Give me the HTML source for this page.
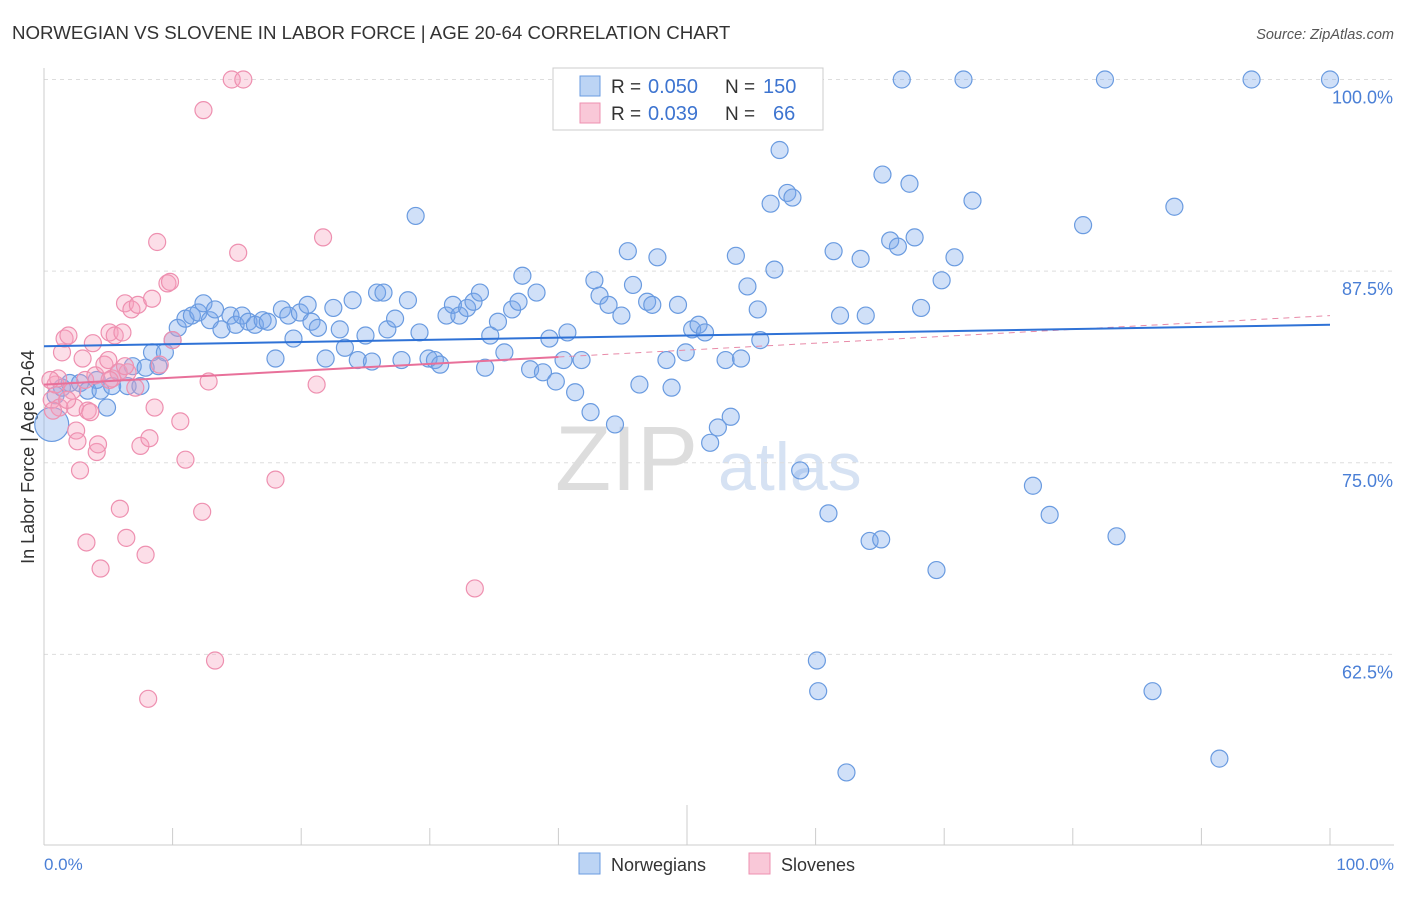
<!DOCTYPE html>
<html><head><meta charset="utf-8"><style>
body{margin:0;background:#fff;font-family:"Liberation Sans",sans-serif;}
svg text{font-family:"Liberation Sans",sans-serif;}
</style></head><body>
<svg id="chart" width="1406" height="892">
<text x="12" y="39" font-size="18.7" fill="#333">NORWEGIAN VS SLOVENE IN LABOR FORCE | AGE 20-64 CORRELATION CHART</text>
<text x="1394" y="39" font-size="14.5" fill="#555" font-style="italic" text-anchor="end">Source: ZipAtlas.com</text>
<text x="555" y="490" font-size="92" fill="#ddd" font-family="Liberation Serif">ZIP</text>
<text x="718" y="490" font-size="68" fill="#d6e2f3">atlas</text>
<g id="grid"></g>
<line x1="44" y1="68" x2="44" y2="845" stroke="#ccc"/>
<line x1="44" y1="845" x2="1394" y2="845" stroke="#ccc"/>
<g id="ticks"></g>
<text x="34" y="457" font-size="18" fill="#333" text-anchor="middle" transform="rotate(-90 34 457)">In Labor Force | Age 20-64</text>
<text x="44" y="870" font-size="17" fill="#4a7fd6">0.0%</text>
<text x="1394" y="870" font-size="17" fill="#4a7fd6" text-anchor="end">100.0%</text>
<g id="pts"></g>
<g id="trends"></g>
<g>
<rect x="553" y="68" width="270" height="62" fill="#fff" stroke="#ccc"/>
<rect x="580" y="76" width="20" height="20" fill="#bcd4f4" stroke="#6a9be0"/>
<rect x="580" y="103" width="20" height="20" fill="#f9c8d8" stroke="#ee90b0"/>
<text x="611" y="93" font-size="19" fill="#333">R =</text>
<text x="648" y="93" font-size="20" fill="#3d74d0">0.050</text>
<text x="725" y="93" font-size="19" fill="#333">N =</text>
<text x="763" y="93" font-size="20" fill="#3d74d0">150</text>
<text x="611" y="120" font-size="19" fill="#333">R =</text>
<text x="648" y="120" font-size="20" fill="#3d74d0">0.039</text>
<text x="725" y="120" font-size="19" fill="#333">N =</text>
<text x="773" y="120" font-size="20" fill="#3d74d0">66</text>
</g>
<g><rect x="579" y="853" width="21" height="21" fill="#bcd4f4" stroke="#6a9be0"/><text x="611" y="871" font-size="18" fill="#333">Norwegians</text></g>
<g><rect x="749" y="853" width="21" height="21" fill="#f9c8d8" stroke="#ee90b0"/><text x="781" y="871" font-size="18" fill="#333">Slovenes</text></g>
</svg>
<script>
const yTicks=[100,87.5,75,62.5];
const yTickLabels=["100.0%","87.5%","75.0%","62.5%"];
const blueX=[0.6,0.9,1.4,2.0,2.8,3.4,4.1,4.9,4.4,5.3,5.8,6.5,6.9,7.5,7.9,8.4,8.9,9.4,10.0,10.4,11.0,11.5,12.0,12.4,12.9,13.3,13.8,14.5,14.9,15.4,15.9,16.4,17.0,17.4,18.0,18.5,19.0,19.4,19.9,20.5,20.8,21.3,21.9,22.5,23.0,23.4,24.0,24.4,25.0,25.5,25.9,26.4,26.7,27.3,27.8,28.3,28.9,29.2,29.9,30.4,30.8,31.3,31.8,32.3,32.9,33.4,33.9,34.3,34.7,35.3,35.8,36.4,36.9,37.2,37.8,38.3,38.8,39.3,39.8,40.4,40.7,41.3,41.8,42.5,42.8,43.2,43.9,44.4,44.9,45.4,45.8,46.3,46.9,47.3,47.7,48.4,48.8,49.3,49.9,50.4,50.9,51.4,51.8,52.4,53.0,53.4,53.8,54.2,54.7,55.5,55.7,56.5,56.8,57.2,57.8,58.2,58.8,61.0,60.1,60.2,61.4,61.9,62.4,63.5,63.9,64.2,65.1,65.2,65.8,66.4,66.7,67.3,67.7,68.2,69.4,69.8,70.8,71.5,72.2,76.9,78.2,80.8,82.5,83.4,86.2,87.9,91.4,93.9,100];
const blueY=[77.5,79.4,79.9,80.2,80.2,79.7,80.4,78.6,79.7,80.0,80.9,80.0,81.3,80.0,81.2,82.2,81.3,82.2,83.0,83.8,84.4,84.6,84.8,85.4,84.3,85.0,83.7,84.6,84.0,84.6,84.2,84.0,84.3,84.2,81.8,85.0,84.6,83.1,84.8,85.3,84.2,83.8,81.8,85.1,83.7,82.5,85.6,81.7,83.3,81.6,86.1,86.1,83.7,84.4,81.7,85.6,91.1,83.5,81.8,81.7,81.4,84.6,85.3,84.6,85.1,85.5,86.1,81.2,83.3,84.2,82.2,85.0,85.5,87.2,81.1,86.1,80.9,83.1,80.3,81.7,83.5,79.6,81.7,78.3,86.9,85.9,85.3,77.5,84.6,88.8,86.6,80.1,85.5,85.3,88.4,81.7,79.9,85.3,82.2,83.7,84.0,83.5,76.3,77.3,81.7,78.0,88.5,81.8,86.5,85.0,83.0,91.9,87.6,95.4,92.6,92.3,74.5,71.7,62.1,60.1,88.8,84.6,54.8,88.3,84.6,69.9,70.0,93.8,89.5,89.1,100,93.2,89.7,85.1,68.0,86.9,88.4,100,92.1,73.5,71.6,90.5,100,70.2,60.1,91.7,55.7,100,100];
const pinkX=[0.6,0.9,1.1,1.4,1.6,1.9,2.2,2.4,2.5,2.6,2.8,3.0,3.2,3.3,3.4,3.6,3.8,4.0,4.1,4.2,4.4,4.7,5.0,5.1,5.3,5.5,5.8,5.9,6.1,6.3,6.4,6.5,6.8,7.1,7.3,7.5,7.9,8.1,8.2,8.4,8.6,8.8,9.0,9.6,9.8,10.0,10.6,11.0,12.3,12.4,12.8,13.3,14.6,15.1,15.5,18.0,21.2,21.7,33.5,1.2,1.8,0.5,0.7,5.1,6.3];
const pinkY=[79.1,80.1,80.5,82.2,83.1,83.3,79.7,78.6,77.1,76.4,74.5,81.8,80.4,69.8,78.4,78.3,82.8,80.7,75.7,76.2,68.1,81.4,81.7,83.5,80.5,83.3,80.9,72.0,83.5,85.4,70.1,80.9,85.0,79.9,85.3,76.1,69.0,59.6,76.6,85.7,78.6,89.4,81.4,86.7,86.8,83.0,77.7,75.2,71.8,98.0,80.3,62.1,100,88.7,100,73.9,80.1,89.7,66.8,78.6,79.1,80.4,78.4,80.4,81.3];
const blueTrend=[82.6,84.0];
const pinkTrend=[80.1,84.6];
const pinkSolidEnd=40;

const X=v=>44+v*12.86, Y=v=>79.5+(100-v)*15.33;
const NS="http://www.w3.org/2000/svg";
function mk(tag,attrs,parent){const e=document.createElementNS(NS,tag);for(const k in attrs)e.setAttribute(k,attrs[k]);parent.appendChild(e);return e;}
const grid=document.getElementById('grid');
yTicks.forEach((t,i)=>{
  const l=mk('line',{x1:44,x2:1394,y1:Y(t),y2:Y(t),stroke:'#ddd','stroke-dasharray':'4 4'},grid);
  
  
  const tx=mk('text',{x:1393,y:Y(t)+24,'font-size':18,fill:'#4a7fd6','text-anchor':'end'},grid);
  tx.textContent=yTickLabels[i];
  
  
});
const ticks=document.getElementById('ticks');
for(let i=1;i<=10;i++){
  const l=mk('line',{x1:X(i*10),x2:X(i*10),y1:845,y2:i==5?805:828,stroke:'#ccc'},ticks);
  
  
}
const pts=document.getElementById('pts');
blueX.forEach((x,i)=>{
  const c=mk('circle',{cx:X(x),cy:Y(blueY[i]),r:i==0?17:8.5,fill:'rgba(120,165,235,0.35)',stroke:'#6a9be0','stroke-width':1.2},pts);
  
  
});
pinkX.forEach((x,i)=>{
  const c=mk('circle',{cx:X(x),cy:Y(pinkY[i]),r:8.5,fill:'rgba(245,160,190,0.35)',stroke:'#ee90b0','stroke-width':1.2},pts);
  
  
});
const tr=document.getElementById('trends');
const pAt=x=>pinkTrend[0]+(pinkTrend[1]-pinkTrend[0])*x/100;
let d=mk('line',{x1:X(pinkSolidEnd),y1:Y(pAt(pinkSolidEnd)),x2:X(100),y2:Y(pinkTrend[1]),stroke:'#e88aa8','stroke-width':1,'stroke-dasharray':'6 5'},tr);


let b=mk('line',{x1:X(0),y1:Y(blueTrend[0]),x2:X(100),y2:Y(blueTrend[1]),stroke:'#2f72d6','stroke-width':2},tr);


let p=mk('line',{x1:X(0),y1:Y(pinkTrend[0]),x2:X(pinkSolidEnd),y2:Y(pAt(pinkSolidEnd)),stroke:'#e8709a','stroke-width':2},tr);


</script>
</body></html>
